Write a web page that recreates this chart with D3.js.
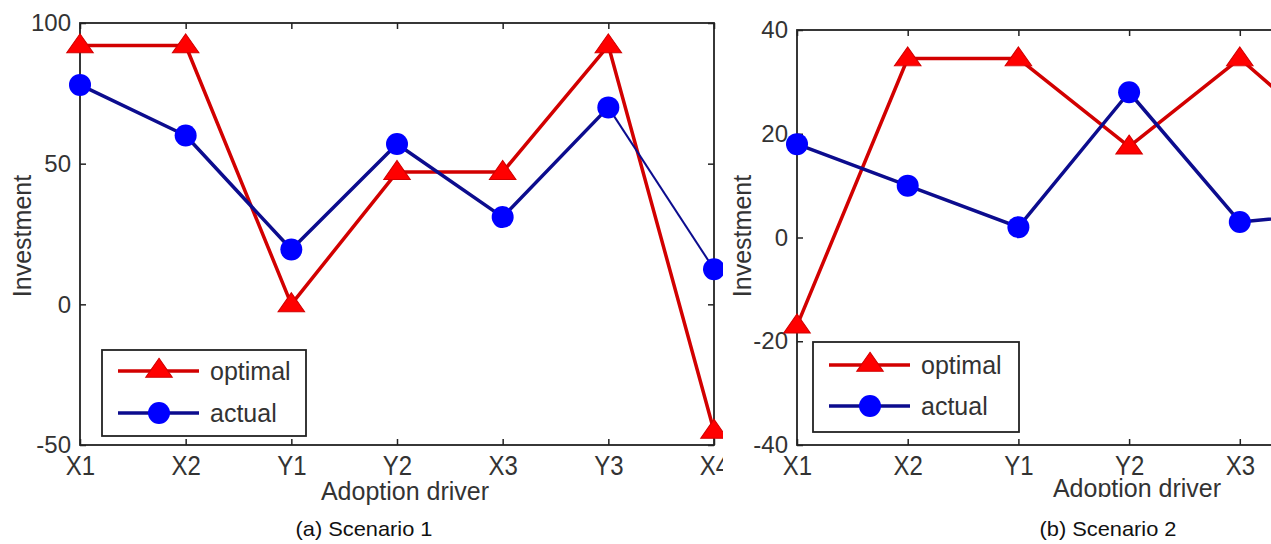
<!DOCTYPE html>
<html>
<head>
  <meta charset="utf-8">
  <style>
    body {
      margin: 0;
      background: #fff;
      font-family: "Liberation Sans", Arial, sans-serif;
    }
    text {
      fill: #333;
    }
  </style>
</head>
<body>
  <svg id="chart" width="1271" height="544"></svg>
  <script src="https://d3js.org/d3.v7.min.js"></script>
  <script>

    // DATA
    var categories = ['X1', 'X2', 'Y1', 'Y2', 'X3', 'Y3', 'X4'];

    var optimal1 = [92, 92, 0, 47, 47, 92, -45];
    var actual1 = [78, 60, 19.5, 57, 31, 70, 12.5];
    var ticks1 = [-50, 0, 50, 100];

    var optimal2 = [-17, 34.5, 34.5, 17.5, 34.5, 16];
    var actual2 = [18, 10, 2, 28, 3, 5];
    var ticks2 = [-40, -20, 0, 20, 40];

    var seriesNames = ['optimal', 'actual'];
    var captions = ['(a) Scenario 1', '(b) Scenario 2'];

    var RED_LINE = '#d20000';
    var RED_MARK = '#ff0000';
    var BLUE_LINE = '#0c0c8e';
    var BLUE_MARK = '#0000ff';

    var svg = d3.select('#chart');

    var defs = svg.append('defs');

    function drawPanel(cfg) {

      var clipId = 'clip-' + cfg.id;

      defs.append('clipPath')
        .attr('id', clipId)
        .append('rect')
          .attr('x', cfg.clip[0])
          .attr('y', 0)
          .attr('width', cfg.clip[1] - cfg.clip[0])
          .attr('height', cfg.clip[2]);

      var g = svg.append('g')
        .attr('clip-path', 'url(#' + clipId + ')');

      var x = d3.scalePoint()
        .domain(categories)
        .range([cfg.left, cfg.right]);

      var y = d3.scaleLinear()
        .domain(cfg.domain)
        .range([cfg.bottom, cfg.top]);

      var axisStyle = function(sel) {
        sel.select('.domain').remove();
        sel.selectAll('line').attr('stroke', '#222').attr('stroke-width', 1.5);
        sel.selectAll('text')
          .style('font-size', '24px')
          .style('font-family', '"Liberation Sans", Arial, sans-serif')
          .attr('fill', '#2e2e2e');
      };

      // inward ticks, matlab style
      g.append('g')
        .attr('transform', `translate(${cfg.left},0)`)
        .call(d3.axisRight(y).tickValues(cfg.ticks).tickSize(6).tickFormat(''))
        .call(axisStyle);

      g.append('g')
        .attr('transform', `translate(${cfg.left - 9},0)`)
        .call(d3.axisLeft(y).tickValues(cfg.ticks).tickSize(0).tickPadding(0)
          .tickFormat(d => String(d)))
        .call(axisStyle);

      g.append('g')
        .attr('transform', `translate(${cfg.right},0)`)
        .call(d3.axisLeft(y).tickValues(cfg.ticks).tickSize(6).tickFormat(''))
        .call(axisStyle);

      g.append('g')
        .attr('transform', `translate(0,${cfg.bottom})`)
        .call(d3.axisTop(x).tickSize(6).tickFormat(''))
        .call(axisStyle);

      g.append('g')
        .attr('transform', `translate(0,${cfg.top})`)
        .call(d3.axisBottom(x).tickSize(6).tickFormat(''))
        .call(axisStyle);

      var xl = g.append('g')
        .attr('transform', `translate(0,${cfg.bottom + 11})`)
        .call(d3.axisBottom(x).tickSize(0).tickPadding(0))
        .call(axisStyle);

      // labels in the picture are a little stretched vertically
      xl.selectAll('.tick')
        .filter(d => x(d) < cfg.clip[1] + 20)
        .select('text')
          .attr('dy', '0.71em')
          .attr('transform', 'scale(1,1.12)');

      xl.selectAll('.tick')
        .filter(d => x(d) >= cfg.clip[1] + 20)
        .remove();

      // frame
      g.append('rect')
        .attr('x', cfg.left)
        .attr('y', cfg.top)
        .attr('width', cfg.right - cfg.left)
        .attr('height', cfg.bottom - cfg.top)
        .attr('fill', 'none')
        .attr('stroke', '#222')
        .attr('stroke-width', 1.8);

      var line = d3.line()
        .x((d, i) => x(categories[i]))
        .y(d => y(d));

      var pts = function(values) {
        return values.map((v, i) => ({ cx: x(categories[i]), cy: y(v) }));
      };

      // red series
      g.append('path')
        .datum(cfg.optimal)
        .attr('d', line)
        .attr('fill', 'none')
        .attr('stroke', RED_LINE)
        .attr('stroke-width', 3.5)
        .attr('stroke-linejoin', 'round');

      // blue series; the last segment is thinner in scenario 1
      var blueLine = d3.line()
        .x(d => d.cx)
        .y(d => d.cy);

      var bluePts = pts(cfg.actual);
      var thinFrom = cfg.thinLast ? bluePts.length - 2 : bluePts.length;

      g.append('path')
        .datum(bluePts.slice(0, thinFrom + 1))
        .attr('d', blueLine)
        .attr('fill', 'none')
        .attr('stroke', BLUE_LINE)
        .attr('stroke-width', 3.5)
        .attr('stroke-linejoin', 'round');

      if (cfg.thinLast) {
        g.append('path')
          .datum(bluePts.slice(thinFrom))
          .attr('d', blueLine)
          .attr('fill', 'none')
          .attr('stroke', BLUE_LINE)
          .attr('stroke-width', 2);
      }

      var tri = d3.symbol().type(d3.symbolTriangle).size(230);

      g.selectAll('.tri')
        .data(pts(cfg.optimal))
        .enter()
          .append('path')
            .attr('class', 'tri')
            .attr('d', tri)
            .attr('transform', d => `translate(${d.cx},${d.cy + 1}) scale(1.15,0.95)`)
            .attr('fill', RED_MARK)
            .attr('stroke', RED_LINE)
            .attr('stroke-width', 1);

      g.selectAll('.dot')
        .data(bluePts)
        .enter()
          .append('circle')
            .attr('class', 'dot')
            .attr('cx', d => d.cx)
            .attr('cy', d => d.cy)
            .attr('r', 11)
            .attr('fill', BLUE_MARK);

      // legend
      var lg = g.append('g')
        .attr('transform', `translate(${cfg.legend[0]},${cfg.legend[1]})`);

      lg.append('rect')
        .attr('width', cfg.legend[2])
        .attr('height', cfg.legend[3])
        .attr('fill', '#fff')
        .attr('stroke', '#222')
        .attr('stroke-width', 1.8);

      var rows = [cfg.legend[4], cfg.legend[5]];

      seriesNames.forEach(function(name, i) {
        var ry = rows[i];
        lg.append('line')
          .attr('x1', 16).attr('x2', 97)
          .attr('y1', ry).attr('y2', ry)
          .attr('stroke', i ? BLUE_LINE : RED_LINE)
          .attr('stroke-width', 3.5);
        if (i === 0) {
          lg.append('path')
            .attr('d', tri)
            .attr('transform', `translate(57,${ry}) scale(1.15,0.95)`)
            .attr('fill', RED_MARK)
            .attr('stroke', RED_LINE);
        } else {
          lg.append('circle')
            .attr('cx', 57).attr('cy', ry).attr('r', 11)
            .attr('fill', BLUE_MARK);
        }
        lg.append('text')
          .attr('x', 108)
          .attr('y', ry)
          .attr('dy', '0.35em')
          .style('font-size', '25px')
          .text(name);
      });

      // axis titles
      svg.append('text')
        .attr('transform', `translate(${cfg.yTitle[0]},${cfg.yTitle[1]}) rotate(-90)`)
        .attr('text-anchor', 'middle')
        .attr('dy', '0.35em')
        .style('font-size', '25px')
        .text('Investment');

      g.append('text')
        .attr('x', cfg.xTitle[0])
        .attr('y', cfg.xTitle[1])
        .attr('text-anchor', 'middle')
        .style('font-size', '25px')
        .text('Adoption driver');

      svg.append('text')
        .attr('x', cfg.caption[0])
        .attr('y', cfg.caption[1])
        .attr('text-anchor', 'middle')
        .attr('textLength', 137)
        .attr('lengthAdjust', 'spacingAndGlyphs')
        .style('font-size', '21px')
        .style('fill', '#111')
        .text(cfg.captionText);
    }

    drawPanel({
      id: 'a',
      left: 80, right: 714, top: 23, bottom: 445,
      domain: [-50, 100],
      ticks: ticks1,
      optimal: optimal1,
      actual: actual1,
      thinLast: true,
      clip: [0, 723, 544],
      legend: [102, 350, 204, 86, 21, 63],
      yTitle: [22, 236],
      xTitle: [405, 500],
      caption: [364, 536],
      captionText: captions[0]
    });

    drawPanel({
      id: 'b',
      left: 797, right: 797 + 6 * 110.7, top: 30, bottom: 445,
      domain: [-40, 40],
      ticks: ticks2,
      optimal: optimal2,
      actual: actual2,
      thinLast: false,
      clip: [728, 1271, 497],
      legend: [813, 342, 206, 90, 23, 64],
      yTitle: [742, 236],
      xTitle: [1137, 497],
      caption: [1108, 536],
      captionText: captions[1]
    });

  </script>
</body>
</html>
